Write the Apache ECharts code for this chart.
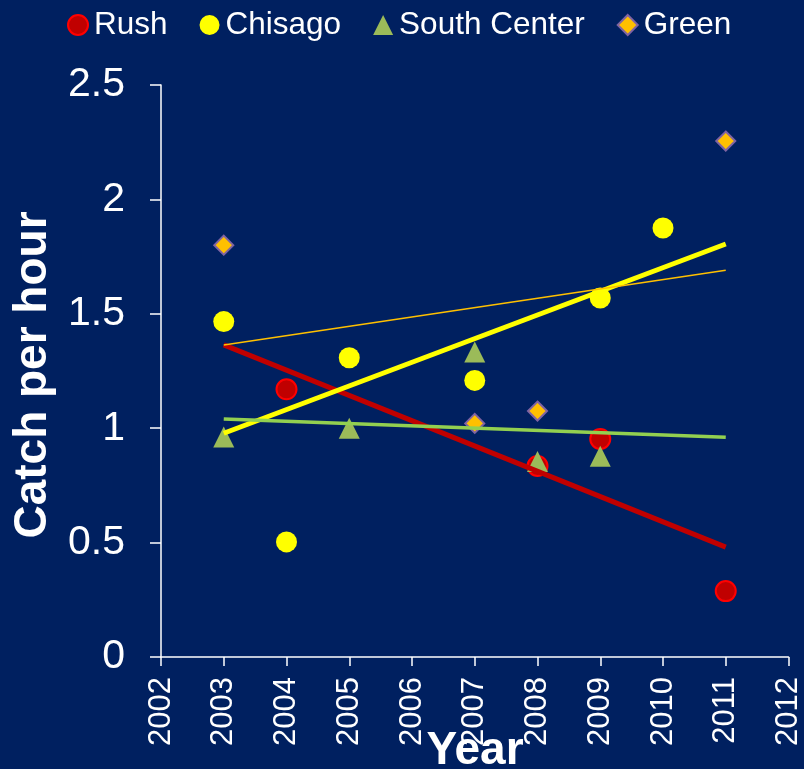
<!DOCTYPE html>
<html>
<head>
<meta charset="utf-8">
<script src="https://cdn.jsdelivr.net/npm/echarts@6/dist/echarts.min.js"></script>
<style>
html,body{margin:0;padding:0;background:#002060;}
#chart{width:804px;height:769px;}
</style>
</head>
<body>
<div id="chart"></div>
<script>
// Data
var seriesNames = ['Rush', 'Chisago', 'South Center', 'Green'];
var rushData = [[2004, 1.17], [2008, 0.835], [2009, 0.953], [2011, 0.288]];
var chisagoData = [[2003, 1.466], [2004, 0.503], [2005, 1.308], [2007, 1.209], [2009, 1.569], [2010, 1.875]];
var southCenterData = [[2003, 0.962], [2005, 1.0], [2007, 1.333], [2008, 0.854], [2009, 0.877]];
var greenData = [[2003, 1.80], [2007, 1.021], [2008, 1.075], [2011, 2.255]];
// Trend line end points
var rushTrend = [[2003, 1.364], [2011, 0.48]];
var chisagoTrend = [[2003, 0.978], [2011, 1.805]];
var southCenterTrend = [[2003, 1.040], [2011, 0.960]];
var greenTrend = [[2003, 1.364], [2011, 1.69]];
var yearTicks = [2002, 2012, 1];
var yTicks = [0, 2.5, 0.5];

var FONT = 'Arial, "Liberation Sans", sans-serif';
var chart = echarts.init(document.getElementById('chart'));
var option = {
  backgroundColor: '#002060',
  animation: false,
  textStyle: {fontFamily: FONT},
  legend: {
    data: seriesNames,
    left: 62,
    top: 4,
    itemWidth: 20,
    itemHeight: 20,
    itemGap: 32,
    textStyle: {color: '#ffffff', fontSize: 31.5, fontFamily: FONT, padding: [0, 0, 0, 1]}
  },
  grid: {left: 161, right: 15, top: 85, bottom: 112},
  xAxis: {
    type: 'value',
    min: yearTicks[0], max: yearTicks[1], interval: yearTicks[2],
    splitLine: {show: false},
    axisLine: {lineStyle: {color: '#ffffff', width: 1.5}},
    axisTick: {lineStyle: {color: '#ffffff', width: 1.5}, length: 9},
    axisLabel: {color: '#ffffff', fontSize: 31, rotate: 90, margin: 20, fontFamily: FONT,
                formatter: function (v) { return String(v); }}
  },
  yAxis: {
    type: 'value',
    min: yTicks[0], max: yTicks[1], interval: yTicks[2],
    splitLine: {show: false},
    axisLine: {show: true, lineStyle: {color: '#ffffff', width: 1.5}},
    axisTick: {show: true, lineStyle: {color: '#ffffff', width: 1.5}, length: 11},
    axisLabel: {color: '#ffffff', fontSize: 41, margin: 36, fontFamily: FONT}
  },
  graphic: [
    {type: 'text', rotation: Math.PI / 2,
     style: {text: 'Catch per hour', fill: '#ffffff', font: 'bold 46px ' + FONT, textAlign: 'center', textVerticalAlign: 'middle'},
     x: 33, y: 375},
    {type: 'text',
     style: {text: 'Year', fill: '#ffffff', font: 'bold 46px ' + FONT, textAlign: 'center', textVerticalAlign: 'middle'},
     x: 475, y: 751, z: 100}
  ],
  series: [
    {name: 'Rush', type: 'scatter', data: rushData, symbol: 'circle', symbolSize: 20,
     itemStyle: {color: '#C00000', borderColor: '#FF0000', borderWidth: 2, opacity: 1}, z: 2},
    {name: 'Chisago', type: 'scatter', data: chisagoData, symbol: 'circle', symbolSize: 21,
     itemStyle: {color: '#FFFF00', opacity: 1}, z: 2},
    {name: 'South Center', type: 'scatter', data: southCenterData, symbol: 'triangle', symbolSize: 21,
     itemStyle: {color: '#9BBB59', opacity: 1}, z: 3},
    {name: 'Green', type: 'scatter', data: greenData, symbol: 'diamond', symbolSize: 19,
     itemStyle: {color: '#FFC000', borderColor: '#8064A2', borderWidth: 2, opacity: 1}, z: 2},
    {name: 'Rush trend', type: 'line', data: rushTrend, symbol: 'none', silent: true,
     lineStyle: {color: '#C00000', width: 5}, z: 4},
    {name: 'Chisago trend', type: 'line', data: chisagoTrend, symbol: 'none', silent: true,
     lineStyle: {color: '#FFFF00', width: 5}, z: 4},
    {name: 'South Center trend', type: 'line', data: southCenterTrend, symbol: 'none', silent: true,
     lineStyle: {color: '#92D050', width: 3.5}, z: 4},
    {name: 'Green trend', type: 'line', data: greenTrend, symbol: 'none', silent: true,
     lineStyle: {color: '#FFC000', width: 1.5}, z: 4}
  ]
};
chart.setOption(option);
</script>
</body>
</html>
